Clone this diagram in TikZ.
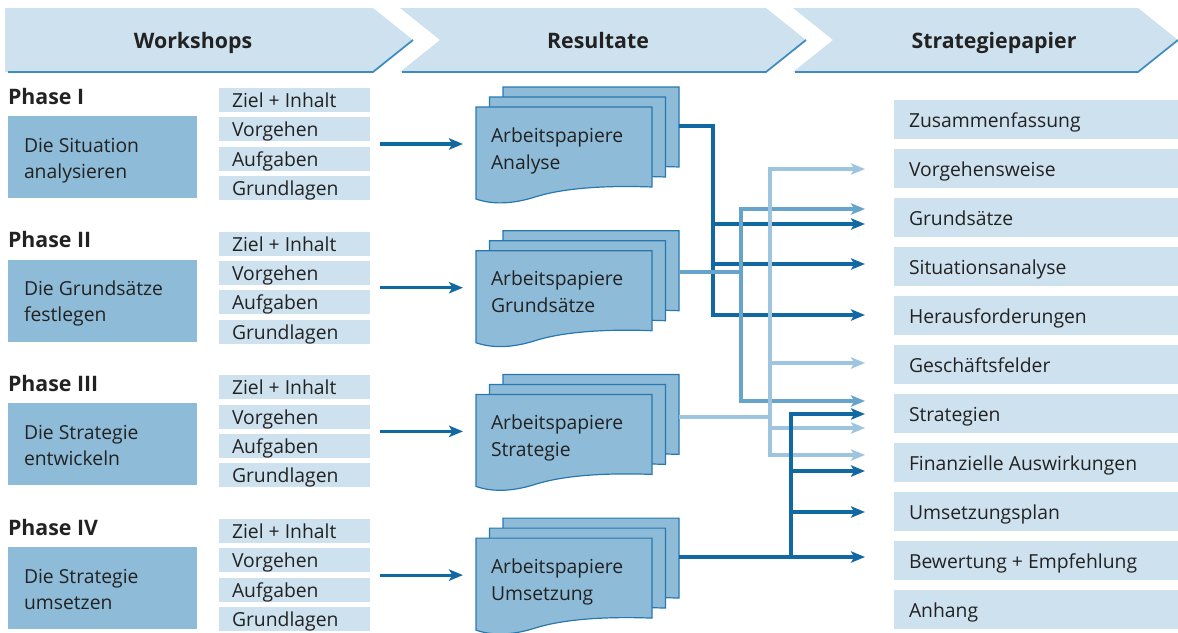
\documentclass[tikz,border=0pt]{standalone}
\usepackage{fontspec}
\setmainfont{Open Sans}
\usetikzlibrary{arrows.meta}
\definecolor{chev}{RGB}{206,225,238}
\definecolor{rowc}{RGB}{206,225,238}
\definecolor{boxc}{RGB}{142,187,215}
\definecolor{docl}{RGB}{40,120,175}
\definecolor{dk}{RGB}{18,104,163}
\definecolor{md}{RGB}{102,164,204}
\definecolor{lt}{RGB}{157,197,224}
\definecolor{hl}{RGB}{62,140,190}
\definecolor{txt}{RGB}{34,34,34}
\begin{document}
\begin{tikzpicture}[x=0.75pt,y=-0.75pt,
  >={Stealth[length=10.5pt,width=8.5pt,inset=2.5pt]},
  every node/.style={inner sep=0pt, outer sep=0pt, text=txt},
  reg/.style={font=\fontsize{14.5}{19}\selectfont, anchor=base west},
  hdr/.style={font=\fontsize{16}{19}\selectfont\bfseries, anchor=base},
  phl/.style={font=\fontsize{16}{19}\selectfont\bfseries, anchor=base west},
  pbox/.style={fill=boxc, minimum width=141.75pt, minimum height=61.5pt},
  rbox/.style={fill=rowc, minimum width=113.25pt, minimum height=18pt},
  lbox/.style={fill=rowc, minimum width=213pt, minimum height=29.25pt},
  chevron/.style={fill=chev},
  hline/.style={draw=hl, line width=1.3pt},
  conn/.style={line width=2.4pt},
  dkc/.style={conn, draw=dk}, mdc/.style={conn, draw=md}, ltc/.style={conn, draw=lt},
  docsheet/.pic={\filldraw[fill=boxc, draw=docl, line width=0.9pt] (0,0) -- (176,0) -- (176,80) .. controls (124,78) and (84,82) .. (59,90) .. controls (34,98) and (14,97) .. (0,92) -- cycle;}
]
\useasboundingbox (0,0) rectangle (1178,632);

% header chevrons
\fill[chevron] (5,8) -- (373,8) -- (413,40) -- (373,72) -- (5,72) -- cycle;
\draw[hline] (8,72) -- (373,72) -- (413,40);
\fill[chevron] (400,8) -- (766,8) -- (806,40) -- (766,72) -- (400,72) -- (440,40) -- cycle;
\draw[hline] (402,72) -- (766,72) -- (806,40);
\fill[chevron] (793,8) -- (1138,8) -- (1178,40) -- (1138,72) -- (793,72) -- (833,40) -- cycle;
\draw[hline] (795,72) -- (1138,72) -- (1178,40);
\node[hdr] (h1) at (193,48) {Workshops};
\node[hdr] (h2) at (598,48) {Resultate};
\node[hdr] (h3) at (994,48) {Strategiepapier};

% phases
\foreach \i/\lab/\la/\lb/\doc in {0/I/Die Situation/analysieren/Analyse,
  1/II/Die Grundsätze/festlegen/Grundsätze,
  2/III/Die Strategie/entwickeln/Strategie,
  3/IV/Die Strategie/umsetzen/Umsetzung}{
  \pgfmathsetmacro\R{88+143.7*\i}
  \pgfmathsetmacro\D{\R+19}
  \node[phl] (pl\i) at (8,\R+16) {Phase \lab};
  \node[pbox] (pb\i) at (102.5,\R+69) {};
  \node[reg] (pt\i a) at (24,\R+64) {\la};
  \node[reg] (pt\i b) at (24,\R+90) {\lb};
  \foreach \j/\t in {0/Ziel + Inhalt,1/Vorgehen,2/Aufgaben,3/Grundlagen}{
    \node[rbox] (rb\i\j) at (294.5,\R+12+29.3*\j) {};
    \node[reg] (rt\i\j) at (232,\R+19.5+29.3*\j) {\t};
  }
  \coordinate (as\i) at (380,\R+56);
  \coordinate (ae\i) at (463,\R+56);
  \draw[dkc,->] (as\i) -- (ae\i);
  \pic at (503,\D-20) {docsheet};
  \pic at (489.5,\D-10) {docsheet};
  \pic at (476,\D) {docsheet};
  \node[reg] (dt\i a) at (491,\D+35) {Arbeitspapiere};
  \node[reg] (dt\i b) at (491,\D+62) {\doc};
}

% right list
\foreach \k/\t in {0/Zusammenfassung,1/Vorgehensweise,2/Grundsätze,3/Situationsanalyse,
  4/Herausforderungen,5/Geschäftsfelder,6/Strategien,7/Finanzielle Auswirkungen,
  8/Umsetzungsplan,9/Bewertung + Empfehlung,10/Anhang}{
  \node[lbox] (r\k) at (1036,119.5+49*\k) {};
  \node[reg] (lt\k) at (909,127.5+49*\k) {\t};
}

% connectors
\coordinate (exA) at (679,126);
\coordinate (exG) at (679,272);
\coordinate (exS) at (679,417);
\coordinate (exU) at (679,557);
\coordinate (jA) at (713,315);
% Analyse (dark)
\draw[dkc,->] (exA) -| (jA) -- (865,315);
\draw[dkc,->] (713,224) -- (865,224);
\draw[dkc,->] (713,264) -- (865,264);
% Grundsaetze (medium)
\draw[mdc] (exG) -- (742,272);
\draw[mdc,<->] (865,209) -- (741,209) -- (741,401) -- (865,401);
% Strategie (light)
\draw[ltc] (exS) -- (771,417);
\draw[ltc,<->] (865,169) -- (770,169) -- (770,455) -- (865,455);
\draw[ltc,->] (770,363) -- (865,363);
\draw[ltc,->] (770,428) -- (865,428);
% Umsetzung (dark)
\draw[dkc,->] (exU) -- (865,557);
\draw[dkc,<-] (865,414) -- (791,414) -- (791,558);
\draw[dkc,->] (791,471) -- (865,471);
\draw[dkc,->] (791,512) -- (865,512);
\end{tikzpicture}
\end{document}
